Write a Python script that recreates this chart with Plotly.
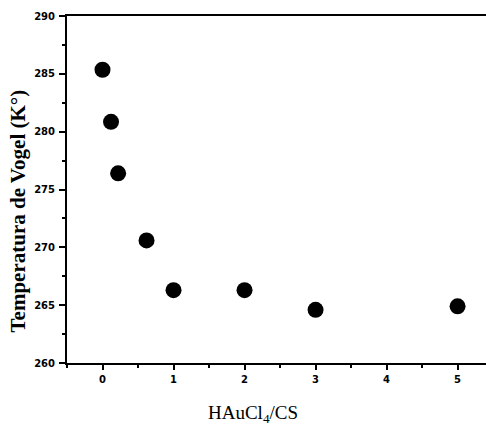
import plotly.graph_objects as go

ratio = [0, 0.12, 0.22, 0.62, 1, 2, 3, 5]
vogel_T = [285.35, 280.85, 276.4, 270.6, 266.3, 266.3, 264.6, 264.9]
x_ticks = [0, 1, 2, 3, 4, 5]
y_ticks = [260, 265, 270, 275, 280, 285, 290]
y_tick_labels = ["260", "265", "270", "275", "280", "285", "290"]

fig = go.Figure()
fig.add_trace(go.Scatter(
    x=ratio, y=vogel_T, mode="markers",
    marker=dict(size=16, color="black", line=dict(width=0)),
    showlegend=False,
))

tickfont = dict(family="DejaVu Sans", size=10, color="black", weight="bold")

pw, ph = 486 - 67, 430 - 16 - 67

fig.update_layout(
    width=486, height=430,
    margin=dict(l=67, r=0, t=16, b=67),
    paper_bgcolor="white", plot_bgcolor="white",
    xaxis=dict(
        range=[-0.5, 5.4], tickvals=x_ticks, ticktext=[str(v) for v in x_ticks],
        showgrid=False, zeroline=False,
        showline=True, linecolor="black", linewidth=2, mirror=True,
        ticks="outside", ticklen=5, tickwidth=2, tickcolor="black",
        minor=dict(dtick=0.5, tick0=0, ticks="outside", ticklen=3, tickwidth=2, tickcolor="black", showgrid=False),
        tickfont=tickfont, ticklabelstandoff=1,
    ),
    yaxis=dict(
        range=[260, 290], tickvals=y_ticks, ticktext=y_tick_labels,
        showgrid=False, zeroline=False,
        showline=True, linecolor="black", linewidth=2,
        ticks="outside", ticklen=6, tickwidth=2, tickcolor="black",
        minor=dict(dtick=2.5, tick0=260, ticks="outside", ticklen=3, tickwidth=2, tickcolor="black", showgrid=False),
        tickfont=tickfont, ticklabelstandoff=2,
    ),
    annotations=[
        dict(text="HAuCl<sub>4</sub>/CS",
             x=(253 - 67) / pw, y=((430 - 414) - 67) / ph, xref="paper", yref="paper",
             showarrow=False, font=dict(family="Liberation Serif", size=19, color="black"),
             xanchor="center", yanchor="middle"),
        dict(text="Temperatura de Vogel (K°)",
             x=(17.5 - 67) / pw, y=((430 - 211) - 67) / ph, xref="paper", yref="paper",
             textangle=-90, showarrow=False,
             font=dict(family="Liberation Serif", size=21, color="black", weight="bold"),
             xanchor="center", yanchor="middle"),
    ],
)

fig.write_html("out.html")
